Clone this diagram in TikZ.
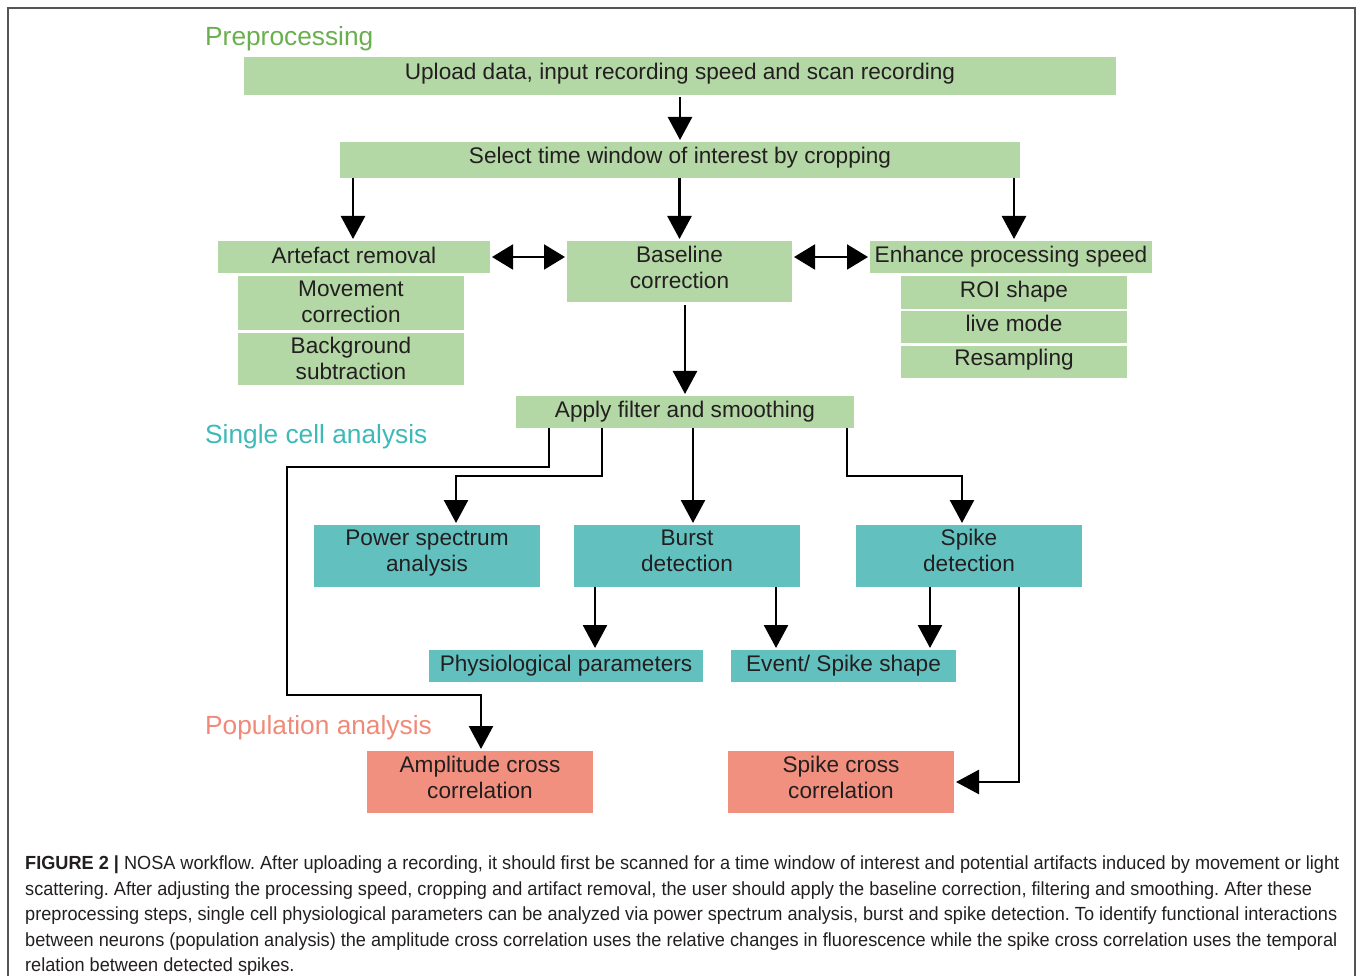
\documentclass[tikz,border=0pt]{standalone}
\usepackage{fontspec}
\setmainfont{Liberation Sans}
\newfontfamily\capfont[FakeStretch=0.955]{Liberation Sans}
\usetikzlibrary{arrows.meta,calc}
\definecolor{gfill}{HTML}{B3D7A5}
\definecolor{tfill}{HTML}{62C1BF}
\definecolor{sfill}{HTML}{F2907F}
\definecolor{gtitle}{HTML}{6AAF4E}
\definecolor{ttitle}{HTML}{3DB9B8}
\definecolor{stitle}{HTML}{F08A78}
\definecolor{txt}{HTML}{231F20}
\definecolor{frame}{HTML}{555555}
\newcommand{\two}[2]{\begin{tabular}{@{}c@{}}#1\\#2\end{tabular}}
\newcommand{\up}[2]{\raisebox{#1}[\height][\depth]{#2}}
\tikzset{
  box/.style={inner sep=0pt, outer sep=0pt, text=txt,
    font=\fontsize{22.6}{26}\selectfont},
  gbox/.style={box, fill=gfill},
  tbox/.style={box, fill=tfill},
  sbox/.style={box, fill=sfill},
  title/.style={anchor=west, inner sep=0pt, font=\fontsize{26.3}{30}\selectfont},
  arr/.style={line width=2.6pt, draw=black, -{Triangle[width=24pt,length=23pt]}, shorten >=2pt},
  darr/.style={line width=2pt, draw=black, {Triangle[width=25pt,length=21pt]}-{Triangle[width=25pt,length=21pt]}, shorten >=2pt, shorten <=2pt},
}
\begin{document}
\begin{tikzpicture}[x=1pt,y=-1pt]
\useasboundingbox (0,0) rectangle (1358,976);
% frame
\draw[frame, line width=1.2pt] (8,976) -- (8,8) -- (1355,8) -- (1355,976);
% titles
\node[title, text=gtitle] (tpre) at (205,39) {Preprocessing};
\node[title, text=ttitle] (tsingle) at (205,437) {Single cell analysis};
\node[title, text=stitle] (tpop) at (205,728) {Population analysis};
% boxes
\node[gbox, minimum width=872pt, minimum height=38pt] (upload) at (680,76) {\up{2pt}{\raisebox{3pt}{Upload data, input recording speed and scan recording}}};
\node[gbox, minimum width=680pt, minimum height=36pt] (select) at (680,160) {\up{2pt}{\raisebox{3pt}{Select time window of interest by cropping}}};
\node[gbox, minimum width=272pt, minimum height=32pt] (artefact) at (354,257) {\up{2pt}{Artefact removal}};
\node[gbox, minimum width=226pt, minimum height=54pt] (movement) at (351,303) {\up{-1.5pt}{\raisebox{1.5pt}{\two{Movement}{correction}}}};
\node[gbox, minimum width=226pt, minimum height=52pt] (background) at (351,359) {\up{-2pt}{\raisebox{1pt}{\two{Background}{subtraction}}}};
\node[gbox, minimum width=225pt, minimum height=61pt] (baseline) at (679.5,271.5) {\up{1pt}{\raisebox{4.5pt}{\two{Baseline}{correction}}}};
\node[gbox, minimum width=282pt, minimum height=32pt] (enhance) at (1011,257) {Enhance processing speed};
\node[gbox, minimum width=226pt, minimum height=33pt] (roi) at (1014,292.5) {\up{1pt}{\raisebox{1.5pt}{ROI shape}}};
\node[gbox, minimum width=226pt, minimum height=32pt] (live) at (1014,327) {\up{3pt}{\raisebox{1.5pt}{live mode}}};
\node[gbox, minimum width=226pt, minimum height=32pt] (resamp) at (1014,362) {\up{2pt}{\raisebox{1.5pt}{Resampling}}};
\node[gbox, minimum width=338pt, minimum height=32pt] (apply) at (685,412) {\raisebox{1pt}{Apply filter and smoothing}};
\node[tbox, minimum width=226pt, minimum height=62pt] (power) at (427,556) {\up{3pt}{\raisebox{6pt}{\two{Power spectrum}{analysis}}}};
\node[tbox, minimum width=226pt, minimum height=62pt] (burst) at (687,556) {\up{3pt}{\raisebox{6pt}{\two{Burst}{detection}}}};
\node[tbox, minimum width=226pt, minimum height=62pt] (spike) at (969,556) {\up{3pt}{\raisebox{6pt}{\two{Spike}{detection}}}};
\node[tbox, minimum width=274pt, minimum height=32pt] (phys) at (566,666) {Physiological parameters};
\node[tbox, minimum width=225pt, minimum height=32pt] (event) at (843.5,666) {Event/ Spike shape};
\node[sbox, minimum width=226pt, minimum height=62pt] (amp) at (480,782) {\up{2pt}{\raisebox{5pt}{\two{Amplitude cross}{correlation}}}};
\node[sbox, minimum width=226pt, minimum height=62pt] (scc) at (841,782) {\up{2pt}{\raisebox{5pt}{\two{Spike cross}{correlation}}}};
% helper coordinates
\coordinate (xa) at (353,0);
\coordinate (xe) at (1014,0);
\coordinate (p1) at (549,467);
\coordinate (p2) at (287,695);
\coordinate (p3) at (481,695);
\coordinate (q1) at (602,476);
\coordinate (q2) at (456,476);
\coordinate (xb) at (693,0);
\coordinate (r1) at (847,476);
\coordinate (r2) at (962,476);
\coordinate (xb1) at (595,0);
\coordinate (xb2) at (776,0);
\coordinate (xs1) at (930,0);
\coordinate (xs2) at (1019,0);
% connectors
\draw[arr] (upload.south) ++(0,2) -- (select.north);
\draw[arr] (select.south -| xa) -- (artefact.north -| xa);
\draw[arr] (select.south -| baseline.north) -- (baseline.north);
\draw[arr] (select.south -| xe) -- (enhance.north -| xe);
\draw[darr] (artefact.east) -- (artefact.east -| baseline.west);
\draw[darr] (baseline.east |- enhance.west) -- (enhance.west);
\draw[arr] (baseline.south -| apply.north) ++(0,3) -- (apply.north);
\draw[arr] (apply.south -| p1) -- (p1) -| (p2) -- (p3) -- (amp.north -| p3);
\draw[arr] (apply.south -| q1) -- (q1) -- (q2) -- (power.north -| q2);
\draw[arr] (apply.south -| xb) -- (burst.north -| xb);
\draw[arr] (apply.south -| r1) -- (r1) -- (r2) -- (spike.north -| r2);
\draw[arr] (burst.south -| xb1) -- (phys.north -| xb1);
\draw[arr] (burst.south -| xb2) -- (event.north -| xb2);
\draw[arr] (spike.south -| xs1) -- (event.north -| xs1);
\draw[arr] (spike.south -| xs2) |- (scc.east);
% caption
\node[anchor=north west, inner sep=0pt, align=left, text=txt,
  font=\capfont\fontsize{19}{25.4}\selectfont\frenchspacing] (caption) at (25,856)
  {\textbf{FIGURE 2 |} NOSA workflow. After uploading a recording, it should first be scanned for a time window of interest and potential artifacts induced by movement or light\\
scattering. After adjusting the processing speed, cropping and artifact removal, the user should apply the baseline correction, filtering and smoothing. After these\\
preprocessing steps, single cell physiological parameters can be analyzed via power spectrum analysis, burst and spike detection. To identify functional interactions\\
between neurons (population analysis) the amplitude cross correlation uses the relative changes in fluorescence while the spike cross correlation uses the temporal\\
relation between detected spikes.};
\end{tikzpicture}
\end{document}
